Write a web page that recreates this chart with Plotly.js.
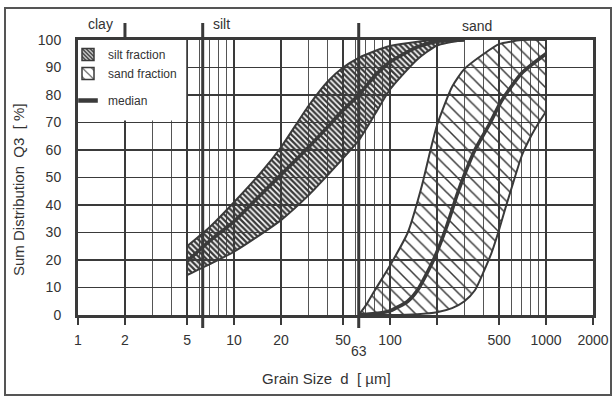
<!DOCTYPE html>
<html>
<head>
<meta charset="utf-8">
<script src="https://cdn.plot.ly/plotly-3.0.1.min.js"></script>
<style>html,body{margin:0;padding:0;background:#fff;}#chart{width:615px;height:400px;}</style>
</head>
<body>
<div id="chart"></div>
<script>
// ---- data (grain size d in µm, sum distribution Q3 in %) ----
const siltD      = [5, 7, 10, 15, 20, 30, 40, 50, 63, 80, 100, 150, 200, 300];
const siltLower  = [14.5, 18.5, 23, 29.5, 34.5, 43.5, 51, 57, 63.5, 73, 82, 93, 98, 100];
const siltMedian = [19.5, 27, 34, 44, 51, 61, 68.5, 74.5, 80, 87, 92, 97.5, 99.5, 100];
const siltUpper  = [25, 32, 41, 52, 61, 76, 85, 90, 93.5, 96, 97.8, 99.4, 100, 100];

const sandUpperD = [63, 70, 80, 100, 130, 160, 180, 200, 250, 300, 400, 500, 700, 1000];
const sandUpper  = [0, 3.5, 9, 18, 30, 47, 59, 69, 83, 89.5, 95, 98.5, 100, 100];
const sandMedD   = [63, 80, 100, 130, 150, 190, 230, 270, 300, 350, 430, 520, 700, 1000];
const sandMedian = [0, 0.5, 1.5, 5, 9, 20, 32, 44, 51, 60, 69, 78, 88, 95];
const sandLowerD = [63, 100, 150, 200, 250, 300, 350, 400, 450, 500, 550, 600, 700, 800, 900, 1000];
const sandLower  = [0, 0, 0.3, 1, 2.5, 5, 9, 16, 23, 31, 39, 46, 58, 65, 70, 74];

const xTickVals  = [1, 2, 5, 10, 20, 50, 100, 200, 500, 1000, 2000];
const xTickText  = ['1', '2', '5', '10', '20', '50', '100', '', '500', '1000', '2000'];
const xMinorVals = [3, 4, 6, 7, 8, 9, 30, 40, 60, 70, 80, 90, 300, 400, 600, 700, 800, 900];
const yTickVals  = [0, 10, 20, 30, 40, 50, 60, 70, 80, 90, 100];
const boundaries = [2, 6.3, 63];          // clay | silt | sand limits
const classNames = ['clay', 'silt', 'sand'];
const classPos   = [1.4, 8.3, 360];       // label positions (µm)

// ---- styling ----
const INK = '#3a3a3a';
const FONT = 'Liberation Sans, Arial, Helvetica, sans-serif';
const L = 78, R = 22, T = 40, B = 85, W = 615, H = 400;
const pw = W - L - R, ph = H - T - B;
const px2paperX = p => (p - L) / pw;
const px2paperY = p => (H - B - p) / ph;

const siltPat = {shape: '\\', size: 4, solidity: 0.6, fgcolor: INK, bgcolor: 'rgba(0,0,0,0)'};
const sandPat = {shape: '\\', size: 9, solidity: 0.17, fgcolor: INK, bgcolor: 'rgba(0,0,0,0)'};
const edge = {color: INK, width: 2, shape: 'spline', smoothing: 0.6};
const med  = {color: INK, width: 3.6, shape: 'spline', smoothing: 0.6};

const traces = [
  {x: siltD, y: siltLower, mode: 'lines', line: edge, showlegend: false, hoverinfo: 'skip'},
  {x: siltD, y: siltUpper, mode: 'lines', line: edge, fill: 'tonexty', fillcolor: 'rgba(0,0,0,0)',
   fillpattern: siltPat, showlegend: false, hoverinfo: 'skip'},
  {x: siltD, y: siltMedian, mode: 'lines', line: med, showlegend: false},
  {x: sandLowerD, y: sandLower, mode: 'lines', line: edge, showlegend: false, hoverinfo: 'skip'},
  {x: sandUpperD, y: sandUpper, mode: 'lines', line: edge, fill: 'tonexty', fillcolor: 'rgba(0,0,0,0)',
   fillpattern: sandPat, showlegend: false, hoverinfo: 'skip'},
  {x: sandMedD, y: sandMedian, mode: 'lines', line: med, showlegend: false},
  // legend entries
  {type: 'bar', x: [null], y: [null], name: 'silt fraction', legendgroup: 'f',
   marker: {color: 'white', line: {color: INK, width: 1.5}, pattern: {shape: '\\', size: 3.5, solidity: 0.6, fgcolor: INK, bgcolor: 'white'}}},
  {type: 'bar', x: [null], y: [null], name: 'sand fraction', legendgroup: 'f',
   marker: {color: 'white', line: {color: INK, width: 1.5}, pattern: {shape: '\\', size: 8, solidity: 0.15, fgcolor: INK, bgcolor: 'white'}}},
  {type: 'scatter', mode: 'markers', x: [null], y: [null], name: 'median', legendgroup: 'm',
   marker: {symbol: 'line-ew', size: 14, color: INK, line: {color: INK, width: 4.5}}}
];

const shapes = [
  // blank legend area (hides grid behind legend)
  {type: 'rect', layer: 'between', xref: 'x', yref: 'y', x0: 1, x1: 4.94, y0: 70.7, y1: 100,
   fillcolor: 'white', line: {width: 0}},
  // outer frame
  {type: 'rect', xref: 'paper', yref: 'paper', x0: px2paperX(5), x1: px2paperX(611), y0: px2paperY(395), y1: px2paperY(8),
   line: {color: '#555', width: 2}, fillcolor: 'rgba(0,0,0,0)', layer: 'below'}
];
boundaries.forEach((b, i) => {
  shapes.push({type: 'line', layer: 'between', xref: 'x', yref: 'paper',
    x0: b, x1: b,
    y0: i === 0 ? 1 : px2paperY(328), y1: px2paperY(23),
    line: {color: INK, width: 3}});
});

const ann = (o) => Object.assign({showarrow: false, xanchor: 'center', yanchor: 'middle',
  font: {family: FONT, size: 14, color: '#333'}}, o);
const annotations = classNames.map((n, i) => ann({
  text: n, xref: 'x', yref: 'paper', x: Math.log10(classPos[i]), y: px2paperY(i === 2 ? 26 : 24)
}));
annotations.push(ann({text: String(boundaries[2]), xref: 'x', yref: 'paper', x: Math.log10(boundaries[2]), y: px2paperY(351)}));
annotations.push(ann({text: 'Grain Size  d  [ µm]', xref: 'paper', yref: 'paper', x: px2paperX(326), y: px2paperY(378),
  font: {family: FONT, size: 15, color: '#333'}}));
annotations.push(ann({text: 'Sum Distribution  Q3  [ %]', xref: 'paper', yref: 'paper', x: px2paperX(18), y: px2paperY(190),
  textangle: -90, font: {family: FONT, size: 15, color: '#333'}}));

const layout = {
  width: W, height: H,
  margin: {l: L, r: R, t: T, b: B, pad: 0},
  paper_bgcolor: 'white', plot_bgcolor: 'white',
  font: {family: FONT, color: '#333'},
  showlegend: true,
  legend: {x: px2paperX(68), y: px2paperY(40), xanchor: 'left', yanchor: 'top', tracegroupgap: 8,
           bgcolor: 'rgba(0,0,0,0)', font: {family: FONT, size: 12, color: '#333'}, traceorder: 'grouped'},
  xaxis: {
    type: 'log', range: [0, Math.log10(2000)], fixedrange: true,
    tickmode: 'array', tickvals: xTickVals, ticktext: xTickText,
    ticks: 'outside', ticklen: 7, tickwidth: 2, tickcolor: INK,
    tickfont: {family: FONT, size: 14, color: '#333'}, ticklabelstandoff: 3,
    showgrid: true, gridcolor: INK, gridwidth: 2,
    minor: {tickmode: 'array', tickvals: xMinorVals, showgrid: true, gridcolor: '#555', gridwidth: 1, ticks: ''},
    showline: true, linecolor: INK, linewidth: 3, mirror: true, zeroline: false
  },
  yaxis: {
    range: [0, 100], fixedrange: true,
    tickmode: 'array', tickvals: yTickVals,
    ticks: '', tickfont: {family: FONT, size: 14, color: '#333'}, ticklabelstandoff: 11,
    showgrid: true, gridcolor: INK, gridwidth: 1.8,
    showline: true, linecolor: INK, linewidth: 3, mirror: true, zeroline: false
  },
  shapes: shapes,
  annotations: annotations
};

Plotly.newPlot('chart', traces, layout, {displayModeBar: false, staticPlot: true});
</script>
</body>
</html>
